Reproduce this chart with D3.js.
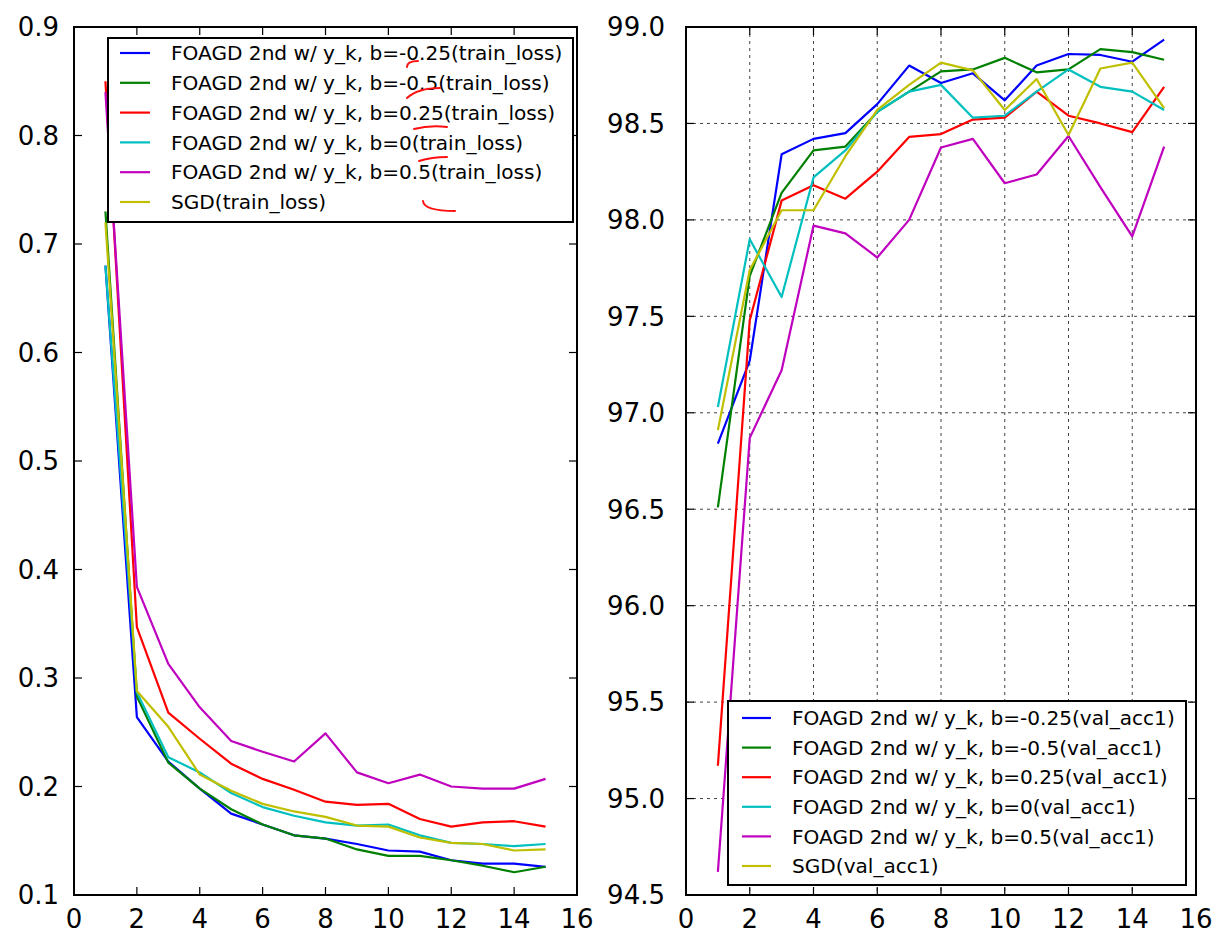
<!DOCTYPE html>
<html><head><meta charset="utf-8">
<script src="https://cdn.jsdelivr.net/npm/d3@7/dist/d3.min.js"></script>
<style>
body{margin:0;background:#fff}
svg{display:block}
text{font-family:"DejaVu Sans",sans-serif;fill:#000}
</style>
</head><body>
<svg id="chart" width="1217" height="936"></svg>
<script>
// ---------- data ----------
const epochs = [1,2,3,4,5,6,7,8,9,10,11,12,13,14,15];

const seriesNames = [
  "FOAGD 2nd w/ y_k, b=-0.25",
  "FOAGD 2nd w/ y_k, b=-0.5",
  "FOAGD 2nd w/ y_k, b=0.25",
  "FOAGD 2nd w/ y_k, b=0",
  "FOAGD 2nd w/ y_k, b=0.5",
  "SGD"
];
const seriesColors = ["#0000ff","#008000","#ff0000","#00bfbf","#bf00bf","#bfbf00"];

// train loss (left panel)
const lossBm025 = [0.68,0.264,0.223,0.198,0.175,0.165,0.155,0.152,0.147,0.141,0.140,0.132,0.129,0.129,0.126];
const lossBm05  = [0.73,0.283,0.222,0.198,0.179,0.165,0.155,0.152,0.142,0.136,0.136,0.132,0.127,0.121,0.126];
const lossB025  = [0.85,0.347,0.268,0.244,0.221,0.207,0.197,0.186,0.183,0.184,0.170,0.163,0.167,0.168,0.163];
const lossB0    = [0.68,0.287,0.227,0.213,0.194,0.181,0.173,0.167,0.164,0.165,0.155,0.148,0.147,0.145,0.147];
const lossB05   = [0.84,0.384,0.313,0.273,0.242,0.232,0.223,0.249,0.213,0.203,0.211,0.200,0.198,0.198,0.207];
const lossSGD   = [0.72,0.288,0.255,0.211,0.196,0.184,0.177,0.172,0.164,0.163,0.153,0.148,0.147,0.141,0.142];

// val acc1 (right panel)
const accBm025 = [96.84,97.27,98.34,98.42,98.45,98.60,98.80,98.71,98.76,98.62,98.80,98.86,98.855,98.82,98.935];
const accBm05  = [96.51,97.71,98.14,98.36,98.38,98.56,98.665,98.77,98.78,98.84,98.765,98.78,98.885,98.87,98.83];
const accB025  = [95.17,97.48,98.10,98.18,98.11,98.25,98.43,98.445,98.52,98.53,98.665,98.54,98.50,98.455,98.69];
const accB0    = [97.03,97.90,97.60,98.22,98.36,98.56,98.665,98.70,98.53,98.54,98.665,98.78,98.69,98.665,98.57];
const accB05   = [94.62,96.87,97.22,97.97,97.93,97.805,98.00,98.375,98.42,98.19,98.235,98.435,98.17,97.915,98.38];
const accSGD   = [96.91,97.74,98.05,98.05,98.33,98.57,98.70,98.815,98.775,98.57,98.73,98.44,98.785,98.815,98.58];

const xTicks = [0,2,4,6,8,10,12,14,16];
const lossTicks = [0.1,0.2,0.3,0.4,0.5,0.6,0.7,0.8,0.9];
const accTicks = [94.5,95.0,95.5,96.0,96.5,97.0,97.5,98.0,98.5,99.0];

// ---------- drawing ----------
const svg = d3.select("#chart");
const TOP = 27, BOTTOM = 895;

function panel(opts){
  const g = svg.append("g");
  const x = d3.scaleLinear().domain([0,16]).range([opts.x0, opts.x1]);
  const y = d3.scaleLinear().domain(opts.yDomain).range([BOTTOM, TOP]);

  // grid
  if (opts.grid){
    const gg = g.append("g").attr("stroke","#444").attr("stroke-width",1)
      .attr("stroke-dasharray","3,4").attr("fill","none");
    xTicks.filter(t=>t>0 && t<16).forEach(t=>{
      gg.append("line").attr("x1",x(t)).attr("x2",x(t)).attr("y1",TOP).attr("y2",BOTTOM);
    });
    opts.yTicks.slice(1,-1).forEach(t=>{
      gg.append("line").attr("x1",opts.x0).attr("x2",opts.x1).attr("y1",y(t)).attr("y2",y(t));
    });
  }

  // lines
  const line = d3.line().x((d,i)=>x(epochs[i])).y(d=>y(d));
  opts.series.forEach((s,i)=>{
    g.append("path").datum(s).attr("d",line).attr("fill","none")
      .attr("stroke",seriesColors[i]).attr("stroke-width",2.2)
      .attr("stroke-linejoin","round");
  });

  // ticks (inward, all four sides)
  const TL = 8;
  const tg = g.append("g").attr("stroke","#000").attr("stroke-width",1.2);
  xTicks.forEach(t=>{
    tg.append("line").attr("x1",x(t)).attr("x2",x(t)).attr("y1",BOTTOM).attr("y2",BOTTOM-TL);
    tg.append("line").attr("x1",x(t)).attr("x2",x(t)).attr("y1",TOP).attr("y2",TOP+TL);
  });
  opts.yTicks.forEach(t=>{
    tg.append("line").attr("x1",opts.x0).attr("x2",opts.x0+TL).attr("y1",y(t)).attr("y2",y(t));
    tg.append("line").attr("x1",opts.x1).attr("x2",opts.x1-TL).attr("y1",y(t)).attr("y2",y(t));
  });

  // tick labels
  xTicks.forEach(t=>{
    g.append("text").attr("x",x(t)).attr("y",BOTTOM+33).attr("text-anchor","middle")
      .attr("font-size",26).text(t);
  });
  opts.yTicks.forEach(t=>{
    g.append("text").attr("x",opts.x0-opts.pad).attr("y",y(t)).attr("dy","0.36em")
      .attr("text-anchor","end").attr("font-size",26).text(opts.fmt(t));
  });

  // frame
  g.append("rect").attr("x",opts.x0).attr("y",TOP).attr("width",opts.x1-opts.x0)
    .attr("height",BOTTOM-TOP).attr("fill","none").attr("stroke","#000").attr("stroke-width",2);

  // legend
  const L = opts.legend;
  const lg = g.append("g");
  lg.append("rect").attr("x",L.x).attr("y",L.y).attr("width",L.w).attr("height",L.h)
    .attr("fill","#fff").attr("stroke","#000").attr("stroke-width",2);
  seriesNames.forEach((n,i)=>{
    const ry = L.y + L.first + i*L.step;
    lg.append("line").attr("x1",L.x+L.lx0).attr("x2",L.x+L.lx1).attr("y1",ry).attr("y2",ry)
      .attr("stroke",seriesColors[i]).attr("stroke-width",2.2);
    lg.append("text").attr("x",L.x+L.tx).attr("y",ry).attr("dy","0.36em")
      .attr("font-size",L.fs).text(n + opts.suffix);
  });
  return {g, L};
}

const left = panel({
  x0:74, x1:577, yDomain:[0.1,0.9], yTicks:lossTicks, fmt:d3.format(".1f"), pad:15,
  series:[lossBm025,lossBm05,lossB025,lossB0,lossB05,lossSGD],
  suffix:"(train_loss)", grid:false,
  legend:{x:108,y:38,w:465,h:184,first:15,step:29.8,lx0:12,lx1:42,tx:63,fs:20.1}
});

const right = panel({
  x0:686, x1:1196, yDomain:[94.5,99.0], yTicks:accTicks, fmt:d3.format(".1f"), pad:21,
  series:[accBm025,accBm05,accB025,accB0,accB05,accSGD],
  suffix:"(val_acc1)", grid:true,
  legend:{x:728,y:701,w:458,h:184,first:17,step:29.6,lx0:14,lx1:43,tx:64,fs:20.1}
});

// hand-drawn red annotation marks over the left legend
const scribbles = [
  "M407,67 Q407,61 418,61",
  "M407,98 Q418,88 440,88",
  "M414,129 Q430,125 447,127",
  "M419,161 Q432,157 447,157",
  "M423,201 Q424,211 455,211"
];
svg.append("g").selectAll("path").data(scribbles).join("path")
  .attr("d",d=>d).attr("fill","none").attr("stroke","#ff1010")
  .attr("stroke-width",2).attr("stroke-linecap","round");
</script>
</body></html>
